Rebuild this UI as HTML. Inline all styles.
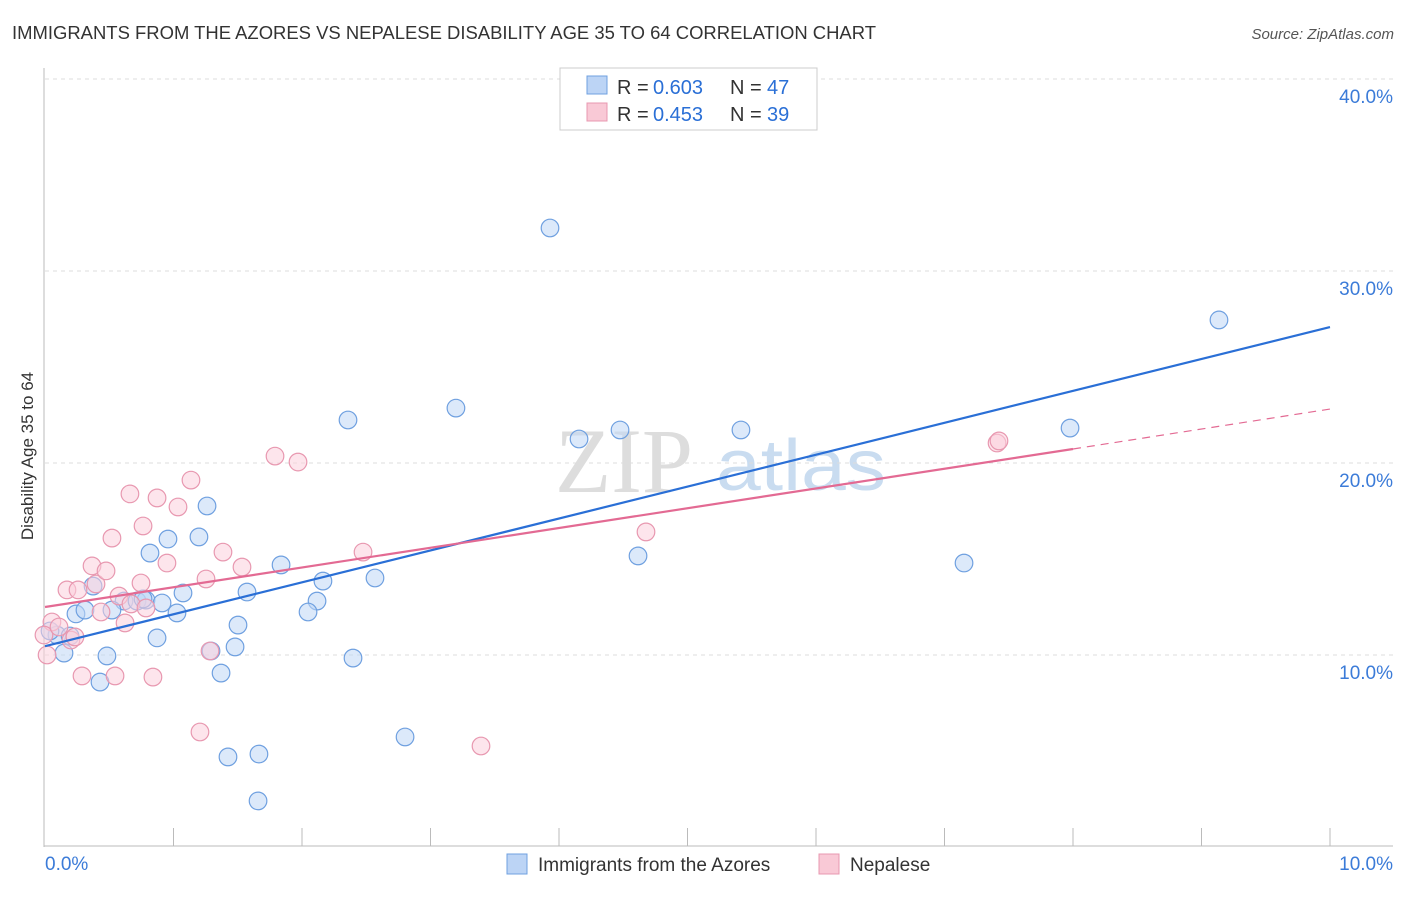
<!DOCTYPE html>
<html><head><meta charset="utf-8"><style>
body{margin:0;background:#fff;font-family:"Liberation Sans",sans-serif}
</style></head><body>
<svg width="1406" height="892" xmlns="http://www.w3.org/2000/svg" font-family="Liberation Sans, sans-serif">
<text x="12" y="39" font-size="18.5" fill="#333" textLength="864" lengthAdjust="spacingAndGlyphs">IMMIGRANTS FROM THE AZORES VS NEPALESE DISABILITY AGE 35 TO 64 CORRELATION CHART</text>
<text x="1394" y="39" font-size="15" fill="#555" text-anchor="end" font-style="italic">Source: ZipAtlas.com</text>
<text x="555" y="492" font-size="92" fill="#ddd" font-family="Liberation Serif, serif">ZIP</text>
<text x="716" y="490" font-size="72" fill="#c9dcf0" textLength="170" lengthAdjust="spacingAndGlyphs">atlas</text>
<g id="grid"></g>
<g id="axes"></g>
<g id="marks"></g>
<text transform="translate(33,456) rotate(-90)" font-size="17" fill="#333" text-anchor="middle">Disability Age 35 to 64</text>
<g font-size="20" fill="#333">
<rect x="560" y="68" width="257" height="62" fill="#fff" stroke="#ccc"/>
<rect x="587" y="76" width="20" height="18" fill="#bcd4f5" stroke="#6fa0e0"/>
<rect x="587" y="103" width="20" height="18" fill="#f9c9d6" stroke="#e898b0"/>
<text x="617" y="94">R =</text><text x="653" y="94" fill="#2a6fd6">0.603</text>
<text x="730" y="94">N =</text><text x="767" y="94" fill="#2a6fd6">47</text>
<text x="617" y="121">R =</text><text x="653" y="121" fill="#2a6fd6">0.453</text>
<text x="730" y="121">N =</text><text x="767" y="121" fill="#2a6fd6">39</text>
</g>
<g>
<rect x="507" y="854" width="20" height="20" fill="#bcd4f5" stroke="#6fa0e0"/>
<text x="538" y="871" font-size="19" fill="#333">Immigrants from the Azores</text>
<rect x="819" y="854" width="20" height="20" fill="#f9c9d6" stroke="#e898b0"/>
<text x="850" y="871" font-size="19" fill="#333">Nepalese</text>
</g>
</svg>
<script>
const xTicks=[0,10];
const xTickLabels=["0.0%","10.0%"];
const yTicks=[10,20,30,40];
const yTickLabels=["10.0%","20.0%","30.0%","40.0%"];
const bluePx=[[550,228],[1219,320],[348,420],[456,408],[579,439],[620,430],[741,430],[1070,428],[638,556],[964,563],[207,506],[168,539],[199,537],[150,553],[281,565],[375,578],[323,581],[247,592],[183,593],[124,601],[137,601],[146,600],[162,603],[177,613],[317,601],[308,612],[238,625],[76,614],[85,610],[157,638],[112,610],[235,647],[211,651],[107,656],[64,653],[57,635],[50,631],[70,636],[221,673],[100,682],[353,658],[405,737],[228,757],[259,754],[258,801],[93,586],[143,599]];
const pinkPx=[[52,622],[47,655],[67,590],[78,590],[96,584],[92,566],[106,571],[130,494],[112,538],[143,526],[157,498],[178,507],[191,480],[275,456],[298,462],[223,552],[242,567],[206,579],[167,563],[141,583],[119,596],[131,604],[125,623],[146,608],[101,612],[71,640],[75,637],[82,676],[115,676],[153,677],[200,732],[210,651],[363,552],[481,746],[646,532],[997,443],[999,441],[44,635],[59,627]];
const blueX=bluePx.map(p=>+((p[0]-45)/128.5).toFixed(3));
const blueY=bluePx.map(p=>+((847-p[1])/19.2).toFixed(2));
const pinkX=pinkPx.map(p=>+((p[0]-45)/128.5).toFixed(3));
const pinkY=pinkPx.map(p=>+((847-p[1])/19.2).toFixed(2));
const blueLine=[[0,10.46],[10,27.08]];
const pinkLine=[[0,12.5],[8,20.73],[10,22.81]];
const NS="http://www.w3.org/2000/svg";
const sx=v=>45+v*128.5, sy=v=>847-v*19.2;
function mk(tag,attrs,parent){const e=document.createElementNS(NS,tag);for(const k in attrs)e.setAttribute(k,attrs[k]);document.getElementById(parent).appendChild(e);return e;}
yTicks.forEach((t,i)=>{
 const l=mk('line',{x1:45,x2:1393,y1:sy(t),y2:sy(t),stroke:'#ddd','stroke-dasharray':'4,4'},'grid');
 
 
 const tx=mk('text',{x:1393,y:sy(t)+24,'font-size':19,fill:'#3b7bd8','text-anchor':'end'},'axes');
 tx.textContent=yTickLabels[i];
 
 
});
const ax=mk('line',{x1:44,x2:44,y1:68,y2:847,stroke:'#bbb'},'axes');


const bx=mk('line',{x1:44,x2:1393,y1:846,y2:846,stroke:'#bbb'},'axes');


for(let i=1;i<=10;i++){const t=mk('line',{x1:sx(i),x2:sx(i),y1:828,y2:846,stroke:'#bbb'},'axes');
 
 }
xTicks.forEach((t,i)=>{const tx=mk('text',{x:i?1393:45,y:870,'font-size':19,fill:'#3b7bd8','text-anchor':i?'end':'start'},'axes');
 tx.textContent=xTickLabels[i];
 
 });
function pts(X,Y,fill,stroke,name){X.forEach((x,i)=>{const c=mk('circle',{cx:sx(x),cy:sy(Y[i]),r:8.8,fill:fill,stroke:stroke,'fill-opacity':0.55,'stroke-width':1.2},'marks');
 
 });}
pts(blueX,blueY,'#c0d7f5','#6fa0e0','azores-point');
pts(pinkX,pinkY,'#fbd0dc','#e898b0','nepalese-point');
const bl=mk('line',{x1:sx(blueLine[0][0]),y1:sy(blueLine[0][1]),x2:sx(blueLine[1][0]),y2:sy(blueLine[1][1]),stroke:'#2a6fd6','stroke-width':2.2},'marks');


const pl=mk('line',{x1:sx(pinkLine[0][0]),y1:sy(pinkLine[0][1]),x2:sx(pinkLine[1][0]),y2:sy(pinkLine[1][1]),stroke:'#e36a93','stroke-width':2.2},'marks');


const pd=mk('line',{x1:sx(pinkLine[1][0]),y1:sy(pinkLine[1][1]),x2:sx(pinkLine[2][0]),y2:sy(pinkLine[2][1]),stroke:'#e36a93','stroke-width':1.2,'stroke-dasharray':'8,6'},'marks');


</script>
</body></html>
